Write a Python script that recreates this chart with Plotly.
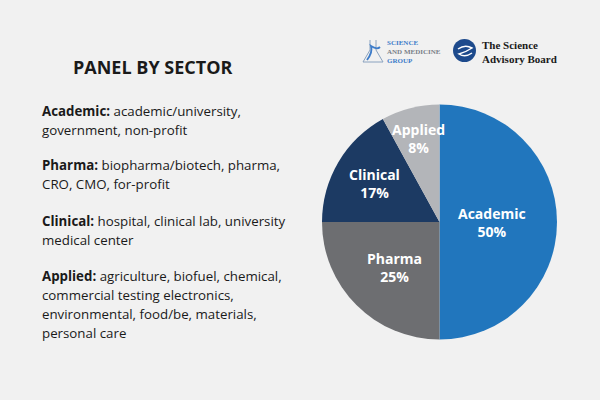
import math
import plotly.graph_objects as go

# ---- data ----
sectors = ["Academic", "Pharma", "Clinical", "Applied"]
shares = [50, 25, 17, 8]
sector_colors = ["#2176bd", "#6d6e71", "#1c3a63", "#b3b5b9"]

title_text = "PANEL BY SECTOR"
desc_heads = ["Academic:", "Pharma:", "Clinical:", "Applied:"]
desc_lines = [
    ["academic/university,", "government, non-profit"],
    ["biopharma/biotech, pharma,", "CRO, CMO, for-profit"],
    ["hospital, clinical lab, university", "medical center"],
    ["agriculture, biofuel, chemical,", "commercial testing electronics,",
     "environmental, food/be, materials,", "personal care"],
]
logo1_lines = ["SCIENCE", "AND MEDICINE", "GROUP"]
logo2_lines = ["The Science", "Advisory Board"]

# ---- layout / style ----
W, H = 600, 400
BG = "#f1f1f1"
TXT = "#1a1a1a"
PIE_CX, PIE_CY, PIE_R = 439.5, 222.0, 117.5   # pixels
label_radius = [0.45, 0.545, 0.64, 0.73]        # fraction of radius for slice labels

def px(x, y):
    return x / W, 1 - y / H

fig = go.Figure()
fig.add_trace(go.Pie(
    labels=sectors, values=shares,
    marker=dict(colors=sector_colors, line=dict(color=BG, width=0)),
    sort=False, direction="clockwise", rotation=0,
    textinfo="none", hoverinfo="skip", showlegend=False,
    domain=dict(x=[(PIE_CX - PIE_R) / W, (PIE_CX + PIE_R) / W],
                y=[1 - (PIE_CY + PIE_R) / H, 1 - (PIE_CY - PIE_R) / H]),
))

ann = []
# slice labels, placed from the data's cumulative shares
total = sum(shares)
cum = 0
for name, v, f in zip(sectors, shares, label_radius):
    mid = (cum + v / 2) / total
    cum += v
    th = 2 * math.pi * mid
    lx = PIE_CX + PIE_R * f * math.sin(th)
    ly = PIE_CY - PIE_R * f * math.cos(th)
    x, y = px(lx, ly)
    ann.append(dict(x=x, y=y, xref="paper", yref="paper",
                    text=f"<b>{name}<br>{v}%</b>", showarrow=False,
                    xanchor="center", yanchor="middle",
                    font=dict(family="Open Sans", size=14, color="white")))

# title
x, y = px(152, 67)
ann.append(dict(x=x, y=y, xref="paper", yref="paper", text=f"<b>{title_text}</b>",
                showarrow=False, xanchor="center", yanchor="middle",
                font=dict(family="Open Sans", size=18, color=TXT)))

# description paragraphs
para_y = [111, 165, 221, 276]
line_gap = 19
for head, lines, y0 in zip(desc_heads, desc_lines, para_y):
    for i, ln in enumerate(lines):
        t = f"<b>{head}</b> {ln}" if i == 0 else ln
        x, y = px(40, y0 + i * line_gap)
        ann.append(dict(x=x, y=y, xref="paper", yref="paper", text=t,
                        showarrow=False, xanchor="left", yanchor="middle",
                        font=dict(family="Open Sans", size=13.3, color=TXT)))

# logos (text approximations)
logo1_cols = ["#3d7cc9", "#7a7f88", "#3d7cc9"]
x, y = px(385, 52)
ann.append(dict(x=x, y=y, xref="paper", yref="paper",
                text="<b>" + "<br>".join(f"<span style='color:{c}'>{t}</span>" for t, c in zip(logo1_lines, logo1_cols)) + "</b>",
                showarrow=False, xanchor="left", yanchor="middle", align="left",
                font=dict(family="Liberation Serif", size=7, color="#3d7cc9")))
x, y = px(480, 51.5)
ann.append(dict(x=x, y=y, xref="paper", yref="paper",
                text="<b>" + "<br>".join(logo2_lines) + "</b>", showarrow=False,
                xanchor="left", yanchor="middle", align="left",
                font=dict(family="Liberation Serif", size=11, color="#1a1a1a")))

shapes = [
    dict(type="circle", xref="paper", yref="paper",
         x0=453 / W, x1=476 / W, y0=1 - 62 / H, y1=1 - 39 / H,
         fillcolor="#1d4a8c", line=dict(width=0)),
    dict(type="path", xref="paper", yref="paper",
         path=f"M {458/W},{1-49/H} Q {465/W},{1-44/H} {472/W},{1-48/H} Q {466/W},{1-52/H} {459/W},{1-54/H} Q {465/W},{1-58/H} {472/W},{1-53/H}",
         line=dict(color="white", width=1.5)),
    dict(type="path", xref="paper", yref="paper",
         path=f"M {370/W},{1-40/H} L {370/W},{1-50/H} L {363/W},{1-62/H} L {383/W},{1-62/H} L {376/W},{1-50/H} L {376/W},{1-40/H}",
         line=dict(color="#8aa2bf", width=1)),
    dict(type="path", xref="paper", yref="paper",
         path=f"M {367/W},{1-60/H} Q {373/W},{1-52/H} {371/W},{1-46/H} Q {377/W},{1-50/H} {380/W},{1-47/H}",
         line=dict(color="#3d7cc9", width=1.8)),
]

fig.update_layout(
    width=W, height=H, margin=dict(l=0, r=0, t=0, b=0),
    paper_bgcolor=BG, plot_bgcolor=BG,
    annotations=ann, shapes=shapes,
)
fig.write_html("out.html", config=dict(displayModeBar=False),
               post_script=f"document.body.style.margin='0';document.body.style.background='{BG}';")
